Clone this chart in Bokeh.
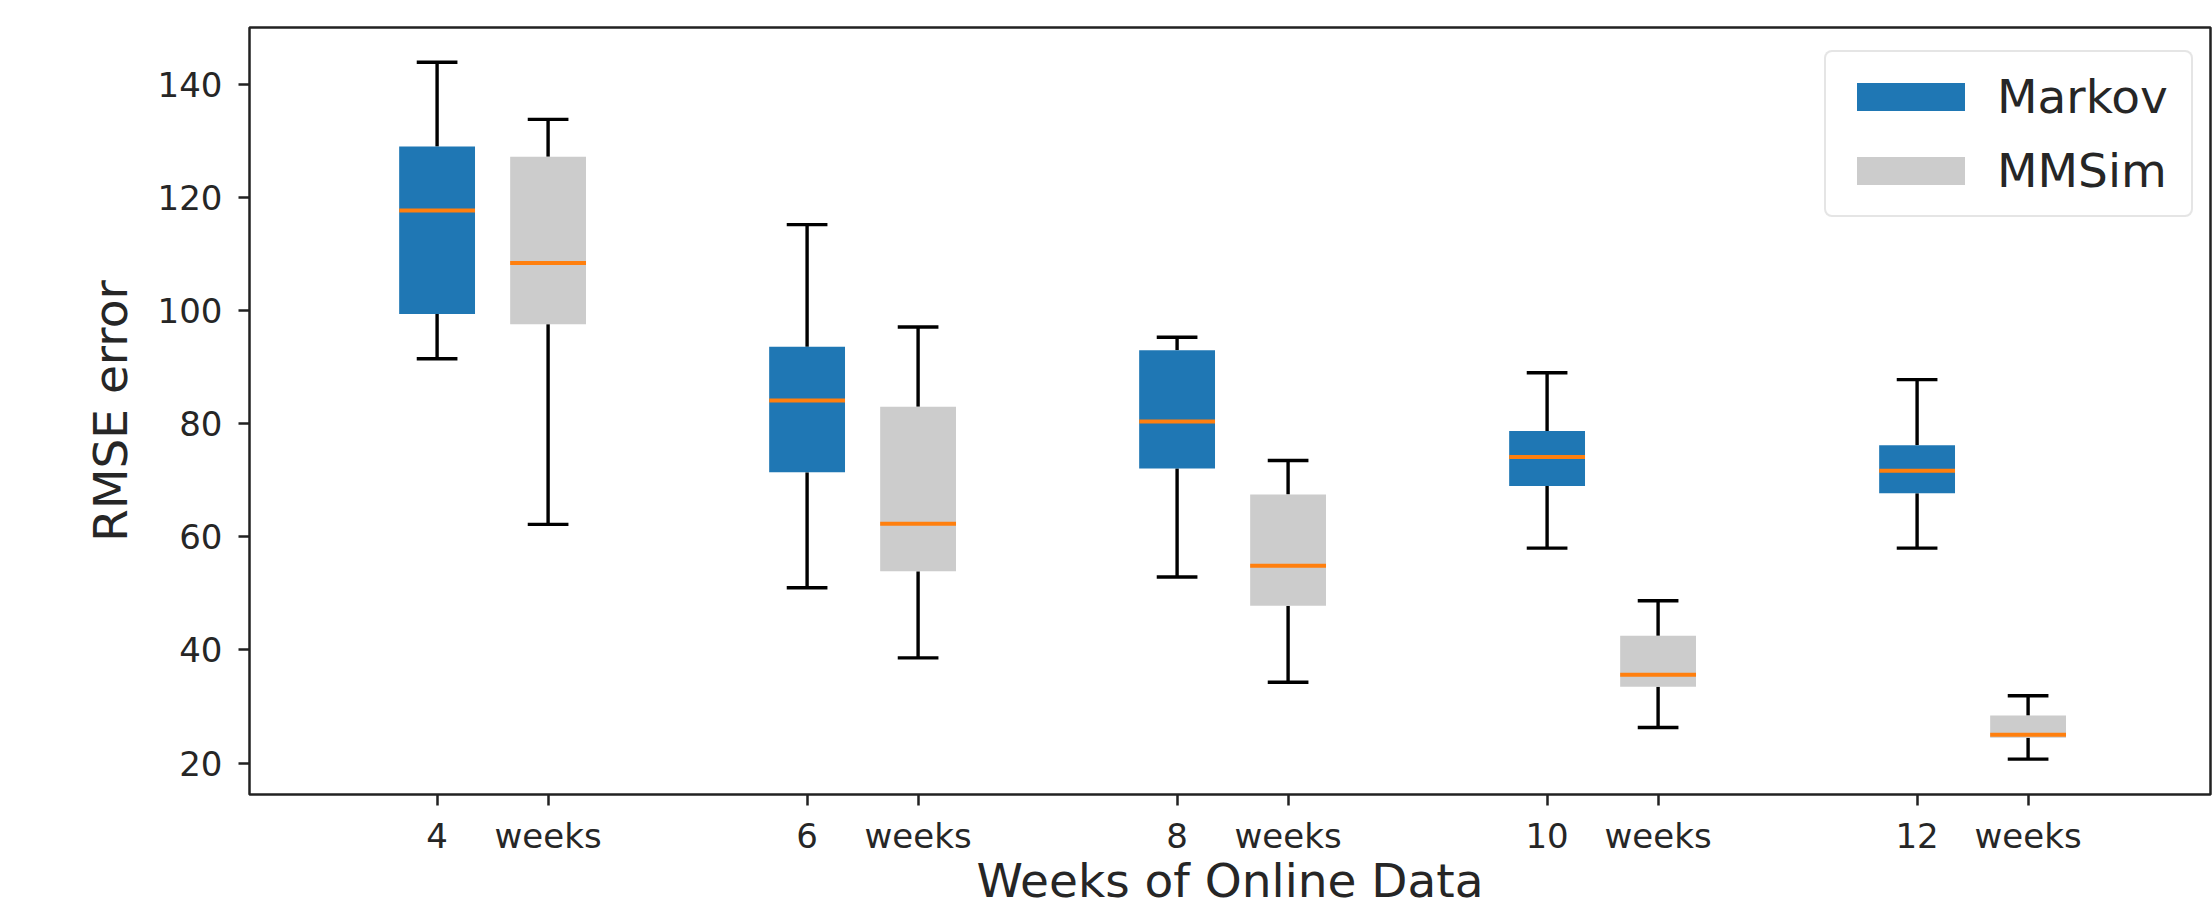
from bokeh.plotting import figure
from bokeh.models import FixedTicker, Range1d, Legend, LegendItem, ColumnDataSource
from bokeh.embed import file_html
from bokeh.resources import INLINE

# ---------------- data ----------------
weeks_labels = ["4", "6", "8", "10", "12"]
second_labels = ["weeks", "weeks", "weeks", "weeks", "weeks"]

markov_low = [91.5, 51.0, 52.9, 58.0, 58.0]
markov_q1 = [99.4, 71.4, 72.1, 69.0, 67.7]
markov_med = [117.7, 84.1, 80.4, 74.1, 71.7]
markov_q3 = [129.0, 93.6, 93.0, 78.7, 76.2]
markov_high = [143.9, 115.2, 95.3, 89.0, 87.8]

mmsim_low = [62.2, 38.6, 34.3, 26.3, 20.7]
mmsim_q1 = [97.6, 53.9, 47.8, 33.5, 24.5]
mmsim_med = [108.4, 62.3, 54.9, 35.6, 25.0]
mmsim_q3 = [127.2, 83.0, 67.5, 42.5, 28.4]
mmsim_high = [133.8, 97.1, 73.5, 48.7, 31.9]

y_ticks = [20, 40, 60, 80, 100, 120, 140]

# ---------------- layout constants ----------------
GROUP_STEP = 10
PAIR_OFFSET = 3
BOX_W = 2.05
CAP_W = 1.1
FONT = "DejaVu Sans"
TXT = "#262626"

markov_pos = [i * GROUP_STEP for i in range(len(weeks_labels))]
mmsim_pos = [x + PAIR_OFFSET for x in markov_pos]

x0, x1 = -5.07, 47.93
p = figure(width=2212, height=911, output_backend="svg", toolbar_location=None,
           x_range=Range1d(x0, x1), y_range=Range1d(14.45, 150.05),
           min_border_left=249, min_border_right=2, min_border_top=27, min_border_bottom=117,
           background_fill_color="white", border_fill_color="white")

p.xgrid.visible = False
p.ygrid.visible = False
p.outline_line_color = "#222222"
p.outline_line_width = 2.5

def draw_boxes(pos, low, q1, med, q3, high, color):
    src = ColumnDataSource(dict(x=pos, low=low, q1=q1, med=med, q3=q3, high=high,
                                xl=[x - BOX_W / 2 for x in pos], xr=[x + BOX_W / 2 for x in pos],
                                cl=[x - CAP_W / 2 for x in pos], cr=[x + CAP_W / 2 for x in pos]))
    p.segment(x0="x", y0="q3", x1="x", y1="high", source=src, line_color="black", line_width=3.4)
    p.segment(x0="x", y0="q1", x1="x", y1="low", source=src, line_color="black", line_width=3.4)
    box = p.vbar(x="x", width=BOX_W, top="q3", bottom="q1", source=src,
                 fill_color=color, line_color=None)
    p.segment(x0="xl", y0="med", x1="xr", y1="med", source=src, line_color="#ff7f0e", line_width=4)
    p.segment(x0="cl", y0="high", x1="cr", y1="high", source=src, line_color="black", line_width=3.4)
    p.segment(x0="cl", y0="low", x1="cr", y1="low", source=src, line_color="black", line_width=3.4)
    return box

markov_box = draw_boxes(markov_pos, markov_low, markov_q1, markov_med, markov_q3, markov_high, "#1f77b4")
mmsim_box = draw_boxes(mmsim_pos, mmsim_low, mmsim_q1, mmsim_med, mmsim_q3, mmsim_high, "#cccccc")

# axes
p.xaxis.ticker = FixedTicker(ticks=markov_pos + mmsim_pos, minor_ticks=[])
overrides = {}
for pos, lab in zip(markov_pos, weeks_labels):
    overrides[pos] = lab
for pos, lab in zip(mmsim_pos, second_labels):
    overrides[pos] = lab
p.xaxis.major_label_overrides = overrides
p.yaxis.ticker = FixedTicker(ticks=y_ticks, minor_ticks=[])

for ax in (p.xaxis[0], p.yaxis[0]):
    ax.axis_line_color = None
    ax.major_tick_in = 0
    ax.major_tick_out = 11
    ax.major_tick_line_width = 2.5
    ax.major_tick_line_color = "#222222"
    ax.minor_tick_line_color = None
    ax.major_label_text_font = FONT
    ax.major_label_text_font_size = "34px"
    ax.major_label_text_color = TXT
    ax.axis_label_text_font = FONT
    ax.axis_label_text_font_size = "47px"
    ax.axis_label_text_font_style = "normal"
    ax.axis_label_text_color = TXT

p.xaxis.major_label_standoff = 10
p.xaxis.axis_label = "Weeks of Online Data"
p.xaxis.axis_label_standoff = -6

p.yaxis.major_label_standoff = 16
p.yaxis.axis_label = "RMSE error"
p.yaxis.axis_label_standoff = 17

legend = Legend(items=[LegendItem(label="Markov", renderers=[markov_box]),
                       LegendItem(label="MMSim", renderers=[mmsim_box])],
                location=(1575, 577),
                glyph_width=135, glyph_height=35, label_standoff=19, label_width=177,
                label_height=55, padding=17, spacing=19,
                label_text_font=FONT, label_text_font_size="47px", label_text_color=TXT,
                border_line_color="#cccccc", border_line_width=2,
                background_fill_color="white", background_fill_alpha=1.0)
try:
    legend.border_radius = 8
except Exception:
    pass
p.add_layout(legend)

open("out.html", "w").write(file_html(p, INLINE))
